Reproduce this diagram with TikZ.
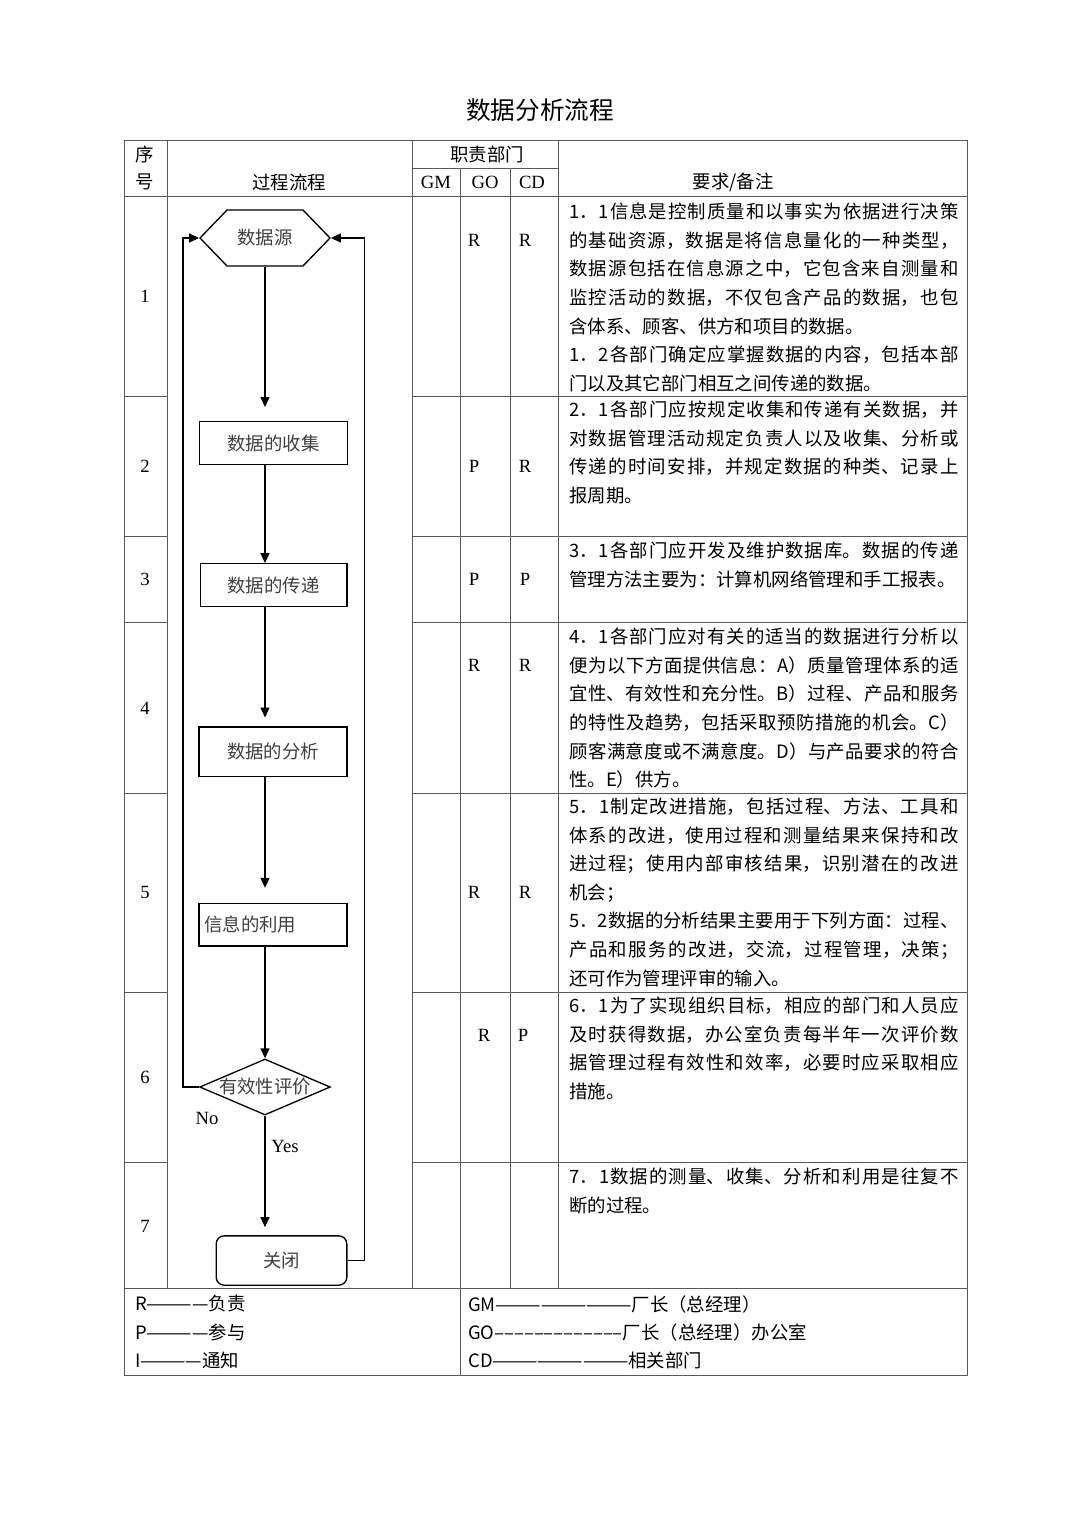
\documentclass[tikz,border=0pt]{standalone}
\usepackage{fontspec}
\setmainfont{Liberation Serif}
\newfontfamily\cjk{Noto Sans CJK SC}
\usetikzlibrary{positioning,shapes.geometric,shapes.symbols,arrows.meta}
\XeTeXlinebreaklocale "zh"
\XeTeXlinebreakskip=0pt plus 1pt

\tikzset{
  grid/.style={draw=black!65, line width=0.75pt},
  cell/.style={font=\fontsize{14}{16}\selectfont, inner sep=0pt},
  cjkcell/.style={font=\cjk\fontsize{13.8}{16}\selectfont, inner sep=0pt},
  flowbox/.style={draw, line width=1pt, font=\cjk\fontsize{13.8}{16}\selectfont,
    text=black!75, inner sep=0pt},
  flowline/.style={line width=1pt},
  flowarrow/.style={line width=1pt, -{Triangle[length=7.5pt,width=6.75pt]}},
  note/.style={anchor=north west, inner sep=0pt, text width=292pt, align=justify,
    font=\cjk\fontsize{13.8}{21.4}\selectfont},
  legend/.style={anchor=west, inner sep=0pt, font=\cjk\fontsize{13.8}{16}\selectfont}
}

\begin{document}
\begin{tikzpicture}[x=0.75pt,y=-0.75pt]
\fill[white] (0,0) rectangle (1080,1527);
\useasboundingbox (0,0) rectangle (1080,1527);

\node[font=\cjk\fontsize{18.5}{20}\selectfont] (title) at (540,110) {数据分析流程};

% table frame
\draw[grid] (124,140) rectangle (967,1375);
\draw[grid] (167,140) -- (167,1288);
\draw[grid] (412,140) -- (412,1288);
\draw[grid] (460,168) -- (460,1375);
\draw[grid] (510,168) -- (510,1288);
\draw[grid] (558,140) -- (558,1288);
\draw[grid] (412,168) -- (558,168);
\draw[grid] (124,196) -- (967,196);
\draw[grid] (124,1288) -- (967,1288);
\foreach \y in {396,536,622,793,992,1162} {
  \draw[grid] (124,\y) -- (167,\y);
  \draw[grid] (412,\y) -- (967,\y);
}

% header
\node[cjkcell] (hxu) at (145,154) {序};
\node[cjkcell] (hhao) at (145,182) {号};
\node[cjkcell] (hflow) at (289,182) {过程流程};
\node[cjkcell] (hdept) at (487,154) {职责部门};
\node[cell] (hgm) at (436,182) {GM};
\node[cell] (hgo) at (485,182) {GO};
\node[cell] (hcd) at (532,182) {CD};
\node[cjkcell] (hnote) at (733,182) {要求/备注};

% row numbers and roles
\foreach \n/\y in {1/296,2/466,3/579,4/708,5/892,6/1077,7/1226}
  \node[cell] (num\n) at (145,\y) {\n};
\foreach \n/\y/\a/\b in {1/240/R/R,2/466/P/R,3/579/P/P,4/665/R/R,5/892/R/R} {
  \node[cell] (go\n) at (474,\y) {\a};
  \node[cell] (cd\n) at (525,\y) {\b};
}
\node[cell] (go6) at (484,1035) {R};
\node[cell] (cd6) at (523,1035) {P};

% requirements
\node[note] (note1) at (569,203) {%
1．1信息是控制质量和以事实为依据进行决策\linebreak
的基础资源，数据是将信息量化的一种类型，\linebreak
数据源包括在信息源之中，它包含来自测量和\linebreak
监控活动的数据，不仅包含产品的数据，也包\linebreak
含体系、顾客、供方和项目的数据。\\
1．2各部门确定应掌握数据的内容，包括本部\linebreak
门以及其它部门相互之间传递的数据。};
\node[note] (note2) at (569,401) {%
2．1各部门应按规定收集和传递有关数据，并\linebreak
对数据管理活动规定负责人以及收集、分析或\linebreak
传递的时间安排，并规定数据的种类、记录上\linebreak
报周期。};
\node[note] (note3) at (569,542) {%
3．1各部门应开发及维护数据库。数据的传递\linebreak
管理方法主要为：计算机网络管理和手工报表。};
\node[note] (note4) at (569,628) {%
4．1各部门应对有关的适当的数据进行分析以\linebreak
便为以下方面提供信息：A）质量管理体系的适\linebreak
宜性、有效性和充分性。B）过程、产品和服务\linebreak
的特性及趋势，包括采取预防措施的机会。C）\linebreak
顾客满意度或不满意度。D）与产品要求的符合\linebreak
性。E）供方。};
\node[note] (note5) at (569,798) {%
5．1制定改进措施，包括过程、方法、工具和\linebreak
体系的改进，使用过程和测量结果来保持和改\linebreak
进过程；使用内部审核结果，识别潜在的改进\linebreak
机会；\\
5．2数据的分析结果主要用于下列方面：过程、\linebreak
产品和服务的改进，交流，过程管理，决策；\linebreak
还可作为管理评审的输入。};
\node[note] (note6) at (569,997) {%
6．1为了实现组织目标，相应的部门和人员应\linebreak
及时获得数据，办公室负责每半年一次评价数\linebreak
据管理过程有效性和效率，必要时应采取相应\linebreak
措施。};
\node[note] (note7) at (569,1168) {%
7．1数据的测量、收集、分析和利用是往复不\linebreak
断的过程。};

% flow chart
\node[flowbox, signal, signal to=west and east, signal pointer angle=92,
  minimum width=97.5pt, minimum height=42pt] (src) at (265,238) {数据源};
\node[flowbox, minimum width=111pt, minimum height=32pt] (collect) at (273.5,443) {数据的收集};
\node[flowbox, minimum width=110pt, minimum height=32pt] (transfer) at (273.5,585) {数据的传递};
\node[flowbox, minimum width=111pt, minimum height=37pt] (analyse) at (273,751.5) {数据的分析};
\node[flowbox, minimum width=111pt, minimum height=32pt, text width=103pt, align=left,
  inner xsep=4pt] (use) at (273,924.5) {信息的利用};
\node[flowbox, diamond, minimum width=98pt, minimum height=42pt,
  label={[flowbox, draw=none]center:有效性评价}] (eval) at (265,1087) {};
\node[flowbox, rounded corners=6pt, minimum width=98pt, minimum height=37pt] (close) at (281.5,1260.5) {关闭};

\draw[flowarrow, shorten >=10.5pt] (src.south) -- (src |- collect.north);
\draw[flowarrow] (src |- collect.south) -- (src |- transfer.north);
\draw[flowarrow, shorten >=6.5pt] (src |- transfer.south) -- (src |- analyse.north);
\draw[flowarrow, shorten >=11pt] (src |- analyse.south) -- (src |- use.north);
\draw[flowarrow] (src |- use.south) -- (eval.north);
\draw[flowarrow, shorten >=6pt] (eval.south) -- (src |- close.north);
\draw[flowarrow] (eval.west) -- ++(-16,0) |- (src.west);
\draw[flowarrow] (close.east) -- ++(17,0) |- (src.east);

\node[cell] (no) at (207,1118) {No};
\node[cell] (yes) at (285,1146) {Yes};

% legend
\node[legend] (lr) at (135,1304) {R————负责};
\node[legend] (lp) at (135,1332) {P————参与};
\node[legend] (li) at (135,1360) {I————通知};
\node[legend] (lgm) at (468,1304) {GM—————————厂长（总经理）};
\node[legend] (lgo) at (468,1332) {GO–––––––––––––厂长（总经理）办公室};
\node[legend] (lcd) at (468,1360) {CD—————————相关部门};
\end{tikzpicture}
\end{document}
